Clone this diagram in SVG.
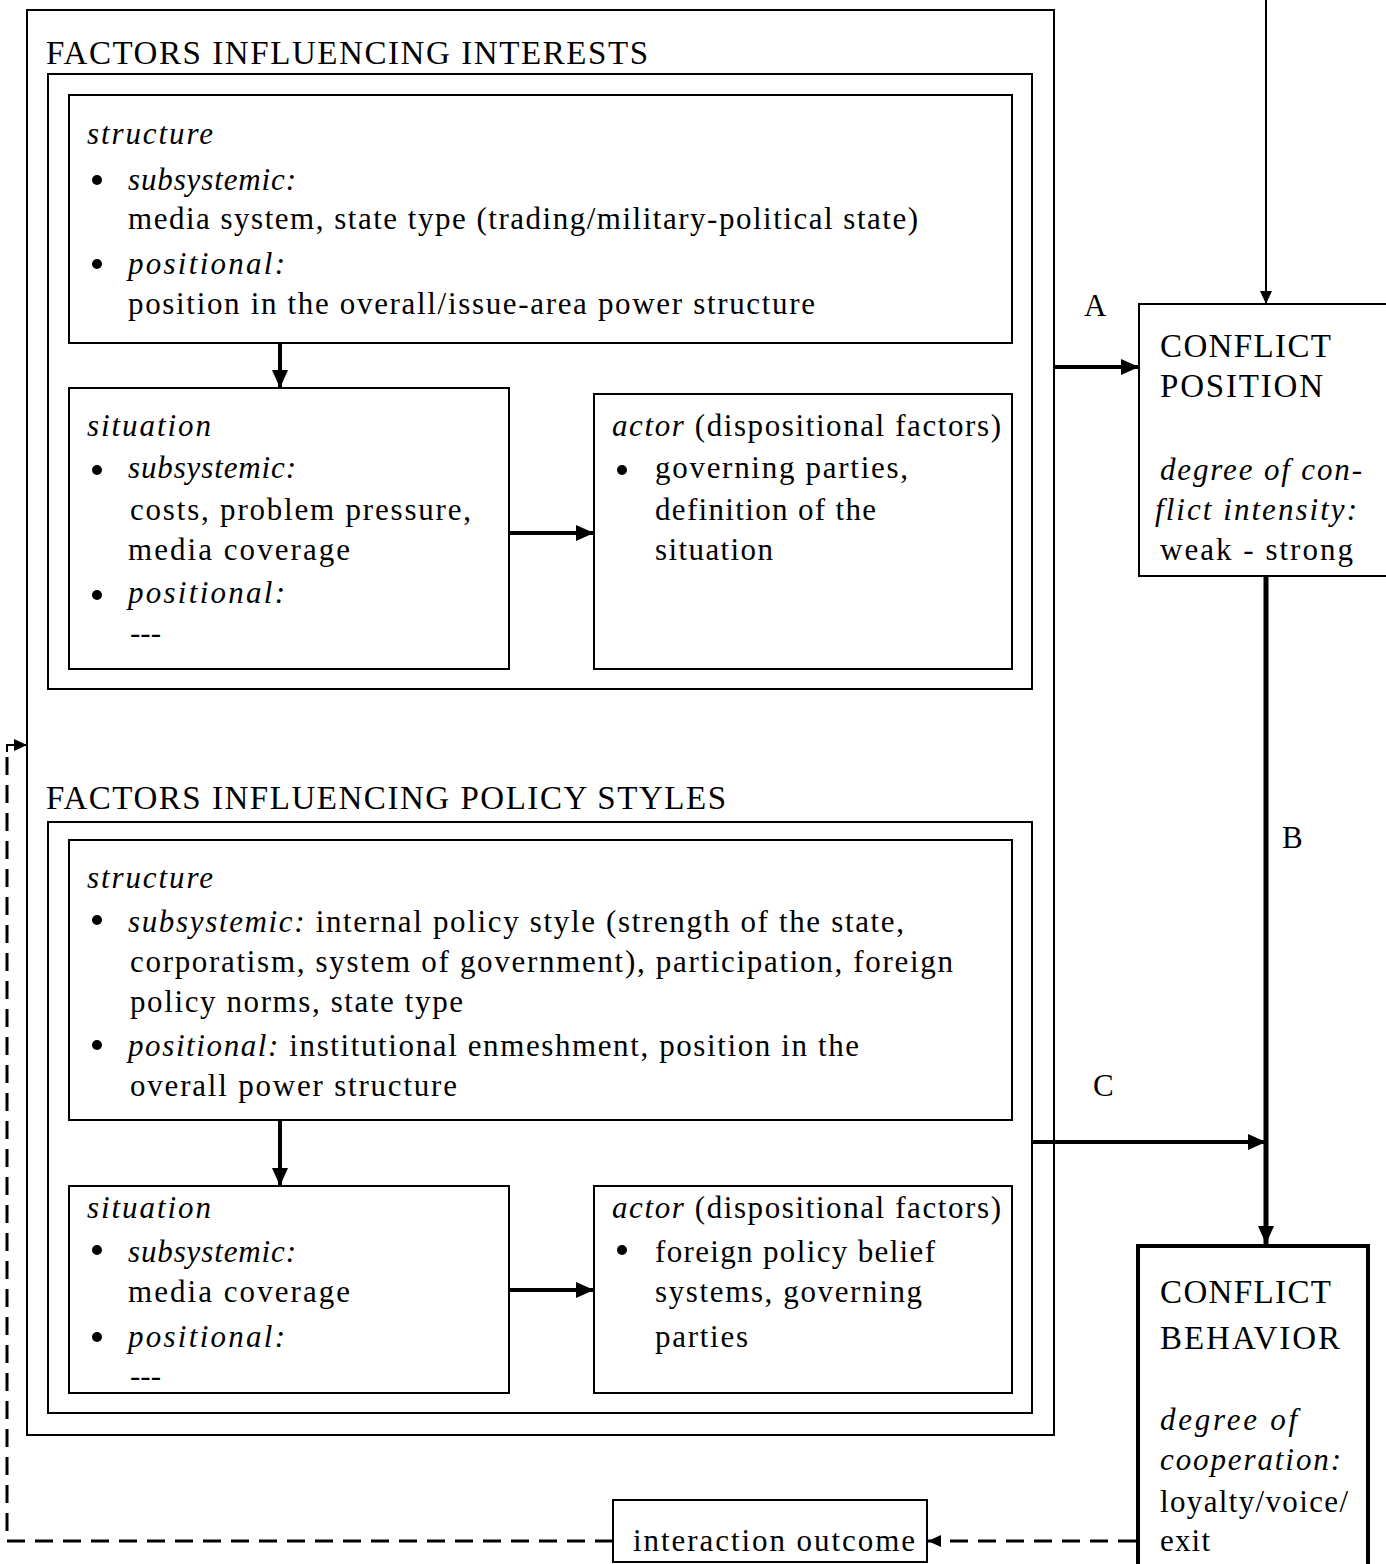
<svg xmlns="http://www.w3.org/2000/svg" width="1386" height="1564" viewBox="0 0 1386 1564">
<style>
text{font-family:"Liberation Serif","Times New Roman",serif;font-size:31px;fill:#000}
.cap{font-size:33px}
.i{font-style:italic}
.box{fill:none;stroke:#000;stroke-width:2}
.thick{fill:none;stroke:#000;stroke-width:4}
.ln{fill:none;stroke:#000}
</style>
<defs>
<marker id="ah" markerUnits="userSpaceOnUse" markerWidth="20" markerHeight="20" viewBox="0 0 20 20" refX="18" refY="10" orient="auto"><path d="M0,2 L18,10 L0,18 Z" fill="#000"/></marker>
<marker id="ahs" markerUnits="userSpaceOnUse" markerWidth="14" markerHeight="14" viewBox="0 0 14 14" refX="13" refY="7" orient="auto"><path d="M0,1 L13,7 L0,13 Z" fill="#000"/></marker>
<circle id="b" r="5" fill="#000"/>
</defs>
<rect width="1386" height="1564" fill="#fff"/>

<g id="interests">
<rect class="box" x="27" y="10" width="1027" height="1425"/>
<text class="cap" x="46" y="64" textLength="602">FACTORS INFLUENCING INTERESTS</text>
<rect class="box" x="48" y="74" width="984" height="615"/>
</g>
<g id="structure1">
<rect class="box" x="69" y="95" width="943" height="248"/>
<text class="i" x="87" y="144" textLength="126">structure</text>
<use href="#b" x="97" y="180"/>
<text class="i" x="128" y="190" textLength="168">subsystemic:</text>
<text x="128" y="229" textLength="790">media system, state type (trading/military-political state)</text>
<use href="#b" x="97" y="264"/>
<text class="i" x="128" y="274" textLength="157">positional:</text>
<text x="128" y="314" textLength="687">position in the overall/issue-area power structure</text>
</g>
<g id="situation1">
<rect class="box" x="69" y="388" width="440" height="281"/>
<text class="i" x="87" y="436" textLength="124">situation</text>
<use href="#b" x="97" y="470"/>
<text class="i" x="128" y="478" textLength="168">subsystemic:</text>
<text x="130" y="520" textLength="341">costs, problem pressure,</text>
<text x="128" y="560" textLength="222">media coverage</text>
<use href="#b" x="97" y="595"/>
<text class="i" x="128" y="603" textLength="157">positional:</text>
<text x="130" y="643">---</text>
</g>
<g id="actor1">
<rect class="box" x="594" y="394" width="418" height="275"/>
<text x="612" y="436" textLength="389"><tspan class="i">actor</tspan> (dispositional factors)</text>
<use href="#b" x="622" y="470"/>
<text x="655" y="478" textLength="253">governing parties,</text>
<text x="655" y="520" textLength="221">definition of the</text>
<text x="655" y="560" textLength="118">situation</text>
</g>

<g id="styles">
<text class="cap" x="46" y="809" textLength="680">FACTORS INFLUENCING POLICY STYLES</text>
<rect class="box" x="48" y="822" width="984" height="591"/>
</g>
<g id="structure2">
<rect class="box" x="69" y="840" width="943" height="280"/>
<text class="i" x="87" y="888" textLength="126">structure</text>
<use href="#b" x="97" y="920"/>
<text x="128" y="932" textLength="776"><tspan class="i">subsystemic:</tspan> internal policy style (strength of the state,</text>
<text x="130" y="972" textLength="823">corporatism, system of government), participation, foreign</text>
<text x="130" y="1012" textLength="333">policy norms, state type</text>
<use href="#b" x="97" y="1045"/>
<text x="128" y="1056" textLength="731"><tspan class="i">positional:</tspan> institutional enmeshment, position in the</text>
<text x="130" y="1096" textLength="327">overall power structure</text>
</g>
<g id="situation2">
<rect class="box" x="69" y="1186" width="440" height="207"/>
<text class="i" x="87" y="1218" textLength="124">situation</text>
<use href="#b" x="97" y="1250"/>
<text class="i" x="128" y="1262" textLength="168">subsystemic:</text>
<text x="128" y="1302" textLength="222">media coverage</text>
<use href="#b" x="97" y="1337"/>
<text class="i" x="128" y="1347" textLength="157">positional:</text>
<text x="130" y="1386">---</text>
</g>
<g id="actor2">
<rect class="box" x="594" y="1186" width="418" height="207"/>
<text x="612" y="1218" textLength="389"><tspan class="i">actor</tspan> (dispositional factors)</text>
<use href="#b" x="622" y="1250"/>
<text x="655" y="1262" textLength="280">foreign policy belief</text>
<text x="655" y="1302" textLength="267">systems, governing</text>
<text x="655" y="1347" textLength="93">parties</text>
</g>

<g id="conflict-position">
<rect class="box" x="1139" y="304" width="260" height="272"/>
<text class="cap" x="1160" y="357" textLength="171">CONFLICT</text>
<text class="cap" x="1160" y="397" textLength="163">POSITION</text>
<text class="i" x="1160" y="480" textLength="202">degree of con-</text>
<text class="i" x="1155" y="520" textLength="202">flict intensity:</text>
<text x="1160" y="560" textLength="193">weak - strong</text>
</g>
<g id="conflict-behavior">
<rect class="thick" x="1138" y="1246" width="230" height="330"/>
<text class="cap" x="1160" y="1303" textLength="171">CONFLICT</text>
<text class="cap" x="1160" y="1349" textLength="180">BEHAVIOR</text>
<text class="i" x="1160" y="1430" textLength="137">degree of</text>
<text class="i" x="1160" y="1470" textLength="181">cooperation:</text>
<text x="1160" y="1512" textLength="188">loyalty/voice/</text>
<text x="1160" y="1551" textLength="50">exit</text>
</g>
<g id="interaction-outcome">
<rect class="box" x="613" y="1500" width="314" height="62"/>
<text x="633" y="1551" textLength="282">interaction outcome</text>
</g>

<g id="connectors">
<line class="ln" stroke-width="4" x1="280" y1="343" x2="280" y2="388" marker-end="url(#ah)"/>
<line class="ln" stroke-width="4" x1="509" y1="533" x2="594" y2="533" marker-end="url(#ah)"/>
<line class="ln" stroke-width="4" x1="280" y1="1120" x2="280" y2="1186" marker-end="url(#ah)"/>
<line class="ln" stroke-width="4" x1="509" y1="1290" x2="594" y2="1290" marker-end="url(#ah)"/>
<line class="ln" stroke-width="2" x1="1266" y1="0" x2="1266" y2="304" marker-end="url(#ahs)"/>
<line class="ln" stroke-width="4" x1="1054" y1="367" x2="1139" y2="367" marker-end="url(#ah)"/>
<text x="1084" y="316">A</text>
<line class="ln" stroke-width="5" x1="1266" y1="576" x2="1266" y2="1244" marker-end="url(#ah)"/>
<text x="1282" y="848">B</text>
<line class="ln" stroke-width="4" x1="1032" y1="1142" x2="1266" y2="1142" marker-end="url(#ah)"/>
<text x="1093" y="1096">C</text>
<line class="ln" stroke-width="3" stroke-dasharray="18,10" x1="1136" y1="1541" x2="928" y2="1541" marker-end="url(#ahs)"/>
<path class="ln" stroke-width="3" stroke-dasharray="18,10" d="M613,1541 H7 V752"/>
<path class="ln" stroke-width="2" d="M7,752 V745 H27" marker-end="url(#ahs)"/>
</g>
</svg>
